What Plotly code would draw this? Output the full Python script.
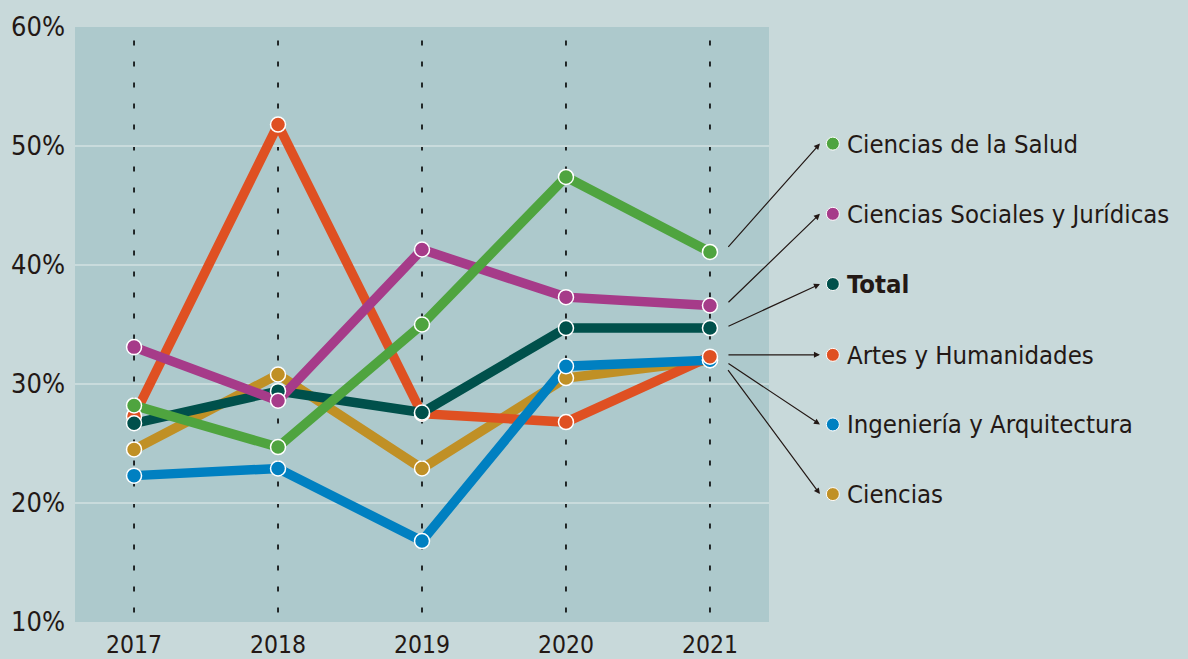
import plotly.graph_objects as go

years = [2017, 2018, 2019, 2020, 2021]
series_names = ["Ciencias de la Salud", "Ciencias Sociales y Jurídicas", "Total",
                "Artes y Humanidades", "Ingeniería y Arquitectura", "Ciencias"]
salud = [28.2, 24.7, 35.0, 47.4, 41.1]
sociales = [33.1, 28.6, 41.3, 37.3, 36.6]
total = [26.7, 29.4, 27.6, 34.7, 34.7]
artes = [27.3, 51.8, 27.5, 26.8, 32.3]
ingenieria = [22.3, 22.9, 16.8, 31.5, 32.0]
ciencias = [24.5, 30.8, 22.9, 30.5, 32.0]
y_ticks = [10, 20, 30, 40, 50, 60]
y_tick_labels = ["10%", "20%", "30%", "40%", "50%", "60%"]

colors = {
    "Ciencias de la Salud": "#4fa43f",
    "Ciencias Sociales y Jurídicas": "#a63b89",
    "Total": "#00504b",
    "Artes y Humanidades": "#df5022",
    "Ingeniería y Arquitectura": "#0080c1",
    "Ciencias": "#c09025",
}
values = {
    "Ciencias de la Salud": salud,
    "Ciencias Sociales y Jurídicas": sociales,
    "Total": total,
    "Artes y Humanidades": artes,
    "Ingeniería y Arquitectura": ingenieria,
    "Ciencias": ciencias,
}
# legend row positions (paper fraction of plot height)
legend_rows = [0.804, 0.686, 0.568, 0.449, 0.332, 0.215]
tail_dy = [0.3, 0.15, 0.1, 0.15, -0.2, -0.7]

FONT = "Liberation Sans Narrow, DejaVu Sans Condensed, Roboto Condensed, Arial Narrow, sans-serif"
TXT = "#231815"

fig = go.Figure()

line_order = ["Ciencias", "Artes y Humanidades", "Ingeniería y Arquitectura", "Total",
              "Ciencias Sociales y Jurídicas", "Ciencias de la Salud"]
marker_order = ["Ciencias", "Ingeniería y Arquitectura", "Artes y Humanidades", "Total",
                "Ciencias Sociales y Jurídicas", "Ciencias de la Salud"]

for name in line_order:
    fig.add_trace(go.Scatter(x=years, y=values[name], mode="lines",
                             line=dict(color=colors[name], width=9.5),
                             showlegend=False, hoverinfo="skip"))
for name in marker_order:
    fig.add_trace(go.Scatter(x=years, y=values[name], mode="markers", name=name,
                             marker=dict(color=colors[name], size=15,
                                         line=dict(color="white", width=1.5)),
                             showlegend=False))

# vertical dashed lines at each year
for yr in years:
    fig.add_shape(type="line", xref="x", yref="y", x0=yr, x1=yr, y0=10.8, y1=59.4,
                  line=dict(color="#000000", width=1.6, dash="5px,16px"), layer="below")

last_x = years[-1]
DOT_X = 1.092
LABEL_X = 1.110
for i, name in enumerate(series_names):
    py = legend_rows[i]
    # legend dot
    fig.add_shape(type="circle", xref="paper", yref="paper",
                  xsizemode="pixel", ysizemode="pixel",
                  xanchor=DOT_X, yanchor=py, x0=-6.5, x1=6.5, y0=-6.5, y1=6.5,
                  fillcolor=colors[name], line=dict(color="white", width=1))
    # label
    fig.add_annotation(x=LABEL_X, y=py, xref="paper", yref="paper",
                       text=("<b>%s</b>" % name) if name == "Total" else name,
                       showarrow=False, xanchor="left", yanchor="middle",
                       font=dict(family=FONT, size=25.5, color=TXT))
    # arrow (head near the legend dot, tail next to the last data point)
    fig.add_annotation(x=last_x + 110 / 144, y=10 + py * 50, xref="x", yref="y",
                       ax=last_x + 17 / 144, ay=values[name][-1] + tail_dy[i],
                       axref="x", ayref="y", text="", showarrow=True,
                       arrowhead=2, arrowsize=1, arrowwidth=1.2, arrowcolor=TXT)

fig.update_layout(
    width=1188, height=659,
    margin=dict(l=75, r=419, t=27, b=37),
    paper_bgcolor="#c8d9da",
    plot_bgcolor="#adc9cc",
    font=dict(family=FONT, color=TXT),
    xaxis=dict(range=[2016.59, 2021.41], tickvals=years, ticktext=[str(y) for y in years],
               showgrid=False, zeroline=False, showline=False, automargin=False,
               tickfont=dict(family=FONT, size=24.5, color=TXT), ticks="", ticklabelstandoff=5),
    yaxis=dict(range=[10, 60], tickvals=y_ticks, ticktext=y_tick_labels,
               showgrid=True, gridcolor="#c9dbdc", gridwidth=2, zeroline=False, showline=False,
               automargin=False,
               tickfont=dict(family=FONT, size=27, color=TXT), ticks="", ticklabelstandoff=9),
    showlegend=False,
)

fig.write_html("out.html",
               config={"displayModeBar": False},
               post_script="document.body.style.margin='0';document.body.style.padding='0';"
                           "document.body.style.overflow='hidden';")
